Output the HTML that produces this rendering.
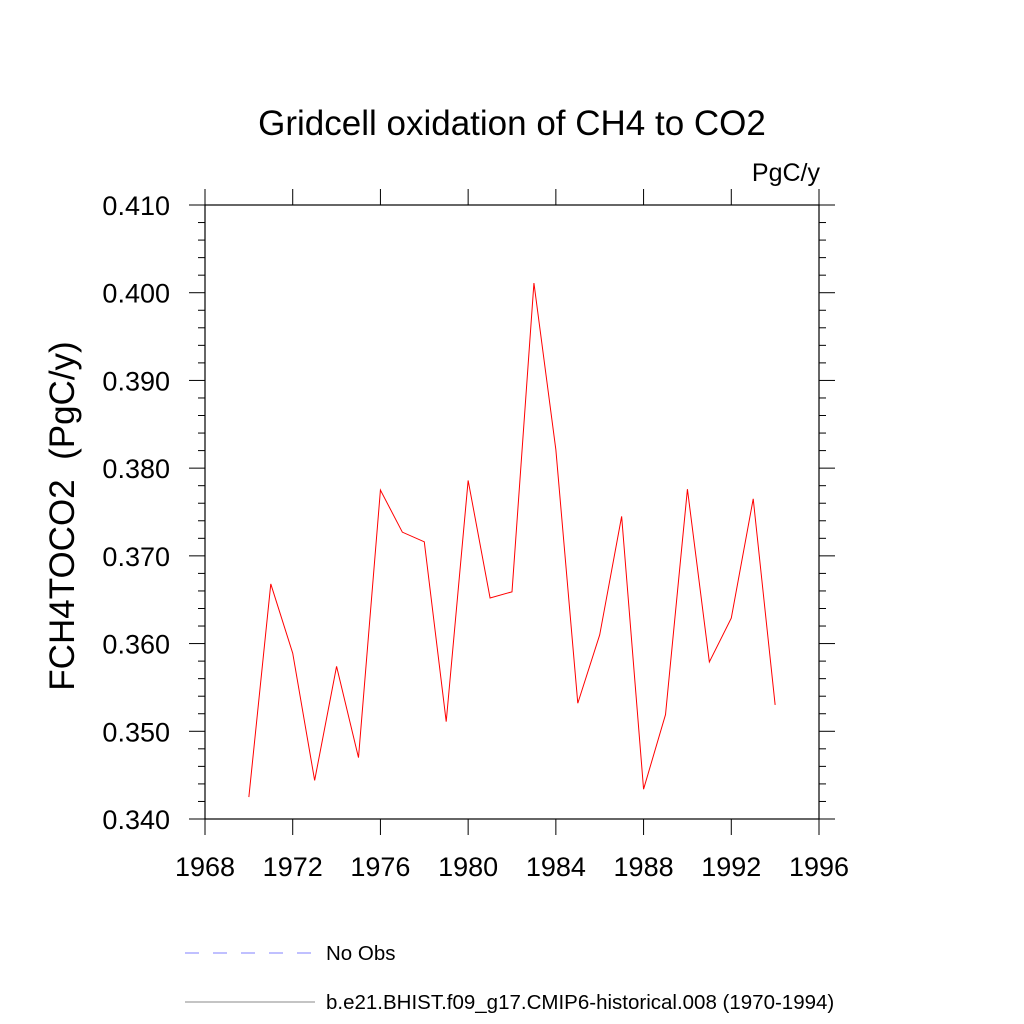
<!DOCTYPE html>
<html><head><meta charset="utf-8"><style>body{margin:0;background:#fff}svg{display:block;font-family:"Liberation Sans",sans-serif}</style></head>
<body>
<svg id="c" width="1024" height="1024">
<text x="512" y="135" font-size="35" text-anchor="middle">Gridcell oxidation of CH4 to CO2</text>
<text x="820" y="181" font-size="25" text-anchor="end">PgC/y</text>
<text transform="translate(74,516) rotate(-90)" font-size="35" text-anchor="middle" xml:space="preserve">FCH4TOCO2  (PgC/y)</text>
<g id="axes"></g>
<line x1="185" y1="953" x2="315" y2="953" stroke="#8080ff" stroke-dasharray="14,14"/>
<text x="326" y="960" font-size="20.5">No Obs</text>
<line x1="185" y1="1002" x2="315" y2="1002" stroke="#888"/>
<text x="326" y="1009" font-size="20.5">b.e21.BHIST.f09_g17.CMIP6-historical.008 (1970-1994)</text>
</svg>
<script>
const years=[1970,1971,1972,1973,1974,1975,1976,1977,1978,1979,1980,1981,1982,1983,1984,1985,1986,1987,1988,1989,1990,1991,1992,1993,1994];
const values=[0.3425,0.3668,0.3589,0.3444,0.3574,0.3470,0.3775,0.3727,0.3716,0.3511,0.3786,0.3652,0.3659,0.4011,0.3821,0.3532,0.3610,0.3745,0.3434,0.3519,0.3776,0.3579,0.3629,0.3765,0.3530];
const xTicks=[1968,1972,1976,1980,1984,1988,1992,1996];
const yTicks=[0.340,0.350,0.360,0.370,0.380,0.390,0.400,0.410];
const L=205,R=819,T=205,B=819;
const xs=v=>L+(v-1968)/28*(R-L);
const ys=v=>B-(v-0.340)/0.070*(B-T);
const NS='http://www.w3.org/2000/svg';
const g=document.getElementById('axes');
function el(t,a){const e=document.createElementNS(NS,t);for(const k in a)e.setAttribute(k,a[k]);g.appendChild(e);return e;}
const box=el('rect',{x:L,y:T,width:R-L,height:B-T,fill:'none',stroke:'#000','stroke-width':1.2});


xTicks.forEach(v=>{const x=xs(v);
el('line',{x1:x,y1:B,x2:x,y2:B+16,stroke:'#000'});
el('line',{x1:x,y1:T,x2:x,y2:T-16,stroke:'#000'});
const t=el('text',{x:x,y:B+57,'font-size':27,'text-anchor':'middle'});t.textContent=v;

});
for(let i=0;i<=35;i++){const v=0.340+i*0.002,y=ys(v),maj=i%5==0,len=maj?16:7;
el('line',{x1:L,y1:y,x2:L-len,y2:y,stroke:'#000'});
el('line',{x1:R,y1:y,x2:R+len,y2:y,stroke:'#000'});}
yTicks.forEach(v=>{const t=el('text',{x:L-35,y:ys(v)+10,'font-size':27,'text-anchor':'end'});t.textContent=v.toFixed(3);

});
const p=el('polyline',{points:years.map((y,i)=>xs(y)+','+ys(values[i])).join(' '),fill:'none',stroke:'#ff0000','stroke-width':1});


</script>
</body></html>
